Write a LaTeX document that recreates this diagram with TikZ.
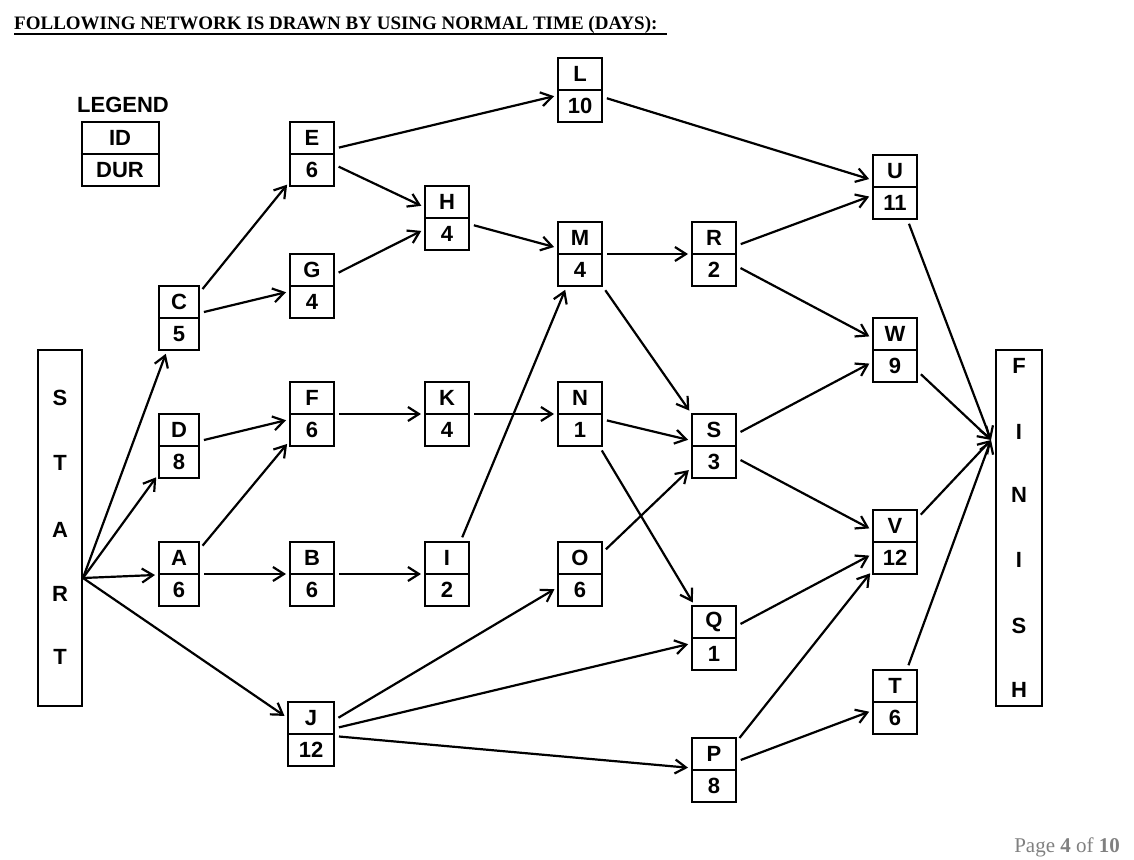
\documentclass[tikz,border=0pt]{standalone}
\usepackage{fontspec}
\setmainfont{Liberation Serif}
\newfontfamily\sans{Liberation Sans}
\usetikzlibrary{arrows.meta}
\newcommand\bx[6][44]{%
  \node[draw,line width=2pt,minimum width=#1,minimum height=64,inner sep=0] (#2) at (#3,#4) {};
  \draw[line width=1.5pt] (#2.west) -- (#2.east);
  \node[lbl] at ([yshift=16]#2.center) {#5};
  \node[lbl] at ([yshift=-16]#2.center) {#6};}
\begin{document}
\begin{tikzpicture}[x=1pt,y=-1pt,
  lbl/.style={font=\sans\bfseries\fontsize{22}{22}\selectfont,inner sep=0},
  ar/.style={line width=2.2pt,-{Straight Barb[length=11pt,width=14pt,line width=2.2pt]},shorten >=3pt,shorten <=4pt}]
\useasboundingbox (0,0) rectangle (1134,859);
\node[anchor=base west,inner sep=0,font=\bfseries\fontsize{19}{19}\selectfont] at (14,30) {FOLLOWING NETWORK IS DRAWN BY USING NORMAL TIME (DAYS):};
\draw[line width=1.2pt] (14,34) -- (667,34);
\node[anchor=base east,inner sep=0,text=gray,font=\fontsize{21}{21}\selectfont] at (1120,852) {Page \textbf{4} of \textbf{10}};
% legend
\node[lbl] at (123,105) {LEGEND};
\node[draw,line width=2pt,minimum width=77,minimum height=64,inner sep=0] (leg) at (120,154) {};
\draw[line width=1.5pt] (leg.west) -- (leg.east);
\node[lbl] at (120,138) {ID};
\node[lbl] at (120,170) {DUR};
% start / finish
\node[draw,line width=2pt,minimum width=44,minimum height=356,inner sep=0] (st) at (60,528) {};
\foreach \l/\y in {S/398,T/463,A/530,R/594,T/657} \node[lbl] at (60,\y) {\l};
\node[draw,line width=2pt,minimum width=46,minimum height=356,inner sep=0] (fi) at (1019,528) {};
\foreach \l/\y in {F/366,I/432,N/495,I/560,S/626,H/690} \node[lbl] at (1019,\y) {\l};
\coordinate (s) at (83,578);
\coordinate (f) at (991,440);
% boxes
\bx{L}{580}{90}{L}{10}
\bx{E}{312}{154}{E}{6}
\bx{H}{447}{218}{H}{4}
\bx{M}{580}{254}{M}{4}
\bx{R}{714}{254}{R}{2}
\bx{U}{895}{187}{U}{11}
\bx{G}{312}{286}{G}{4}
\bx[40]{C}{179}{318}{C}{5}
\bx{W}{895}{350}{W}{9}
\bx{F}{312}{414}{F}{6}
\bx{K}{447}{414}{K}{4}
\bx{N}{580}{414}{N}{1}
\bx[40]{D}{179}{446}{D}{8}
\bx{S}{714}{446}{S}{3}
\bx[40]{A}{179}{574}{A}{6}
\bx{B}{312}{574}{B}{6}
\bx{I}{447}{574}{I}{2}
\bx{O}{580}{574}{O}{6}
\bx{V}{895}{542}{V}{12}
\bx{Q}{714}{638}{Q}{1}
\bx[46]{J}{311}{734}{J}{12}
\bx{T}{895}{702}{T}{6}
\bx{P}{714}{770}{P}{8}
% edges
\foreach \a/\b in {C/E,C/G,E/L,E/H,G/H,H/M,D/F,A/F,A/B,F/K,K/N,B/I,I/M,L/U,M/R,M/S,N/S,N/Q,J/O,J/Q,J/P,O/S,R/U,R/W,S/W,S/V,Q/V,P/V,P/T}
  \draw[ar] (\a) -- (\b);
\foreach \b in {C,D,A,J} \draw[ar,shorten <=0pt] (s) -- (\b);
\foreach \a in {U,W,V,T} \draw[ar,shorten >=0pt] (\a) -- (f);
\end{tikzpicture}
\end{document}
